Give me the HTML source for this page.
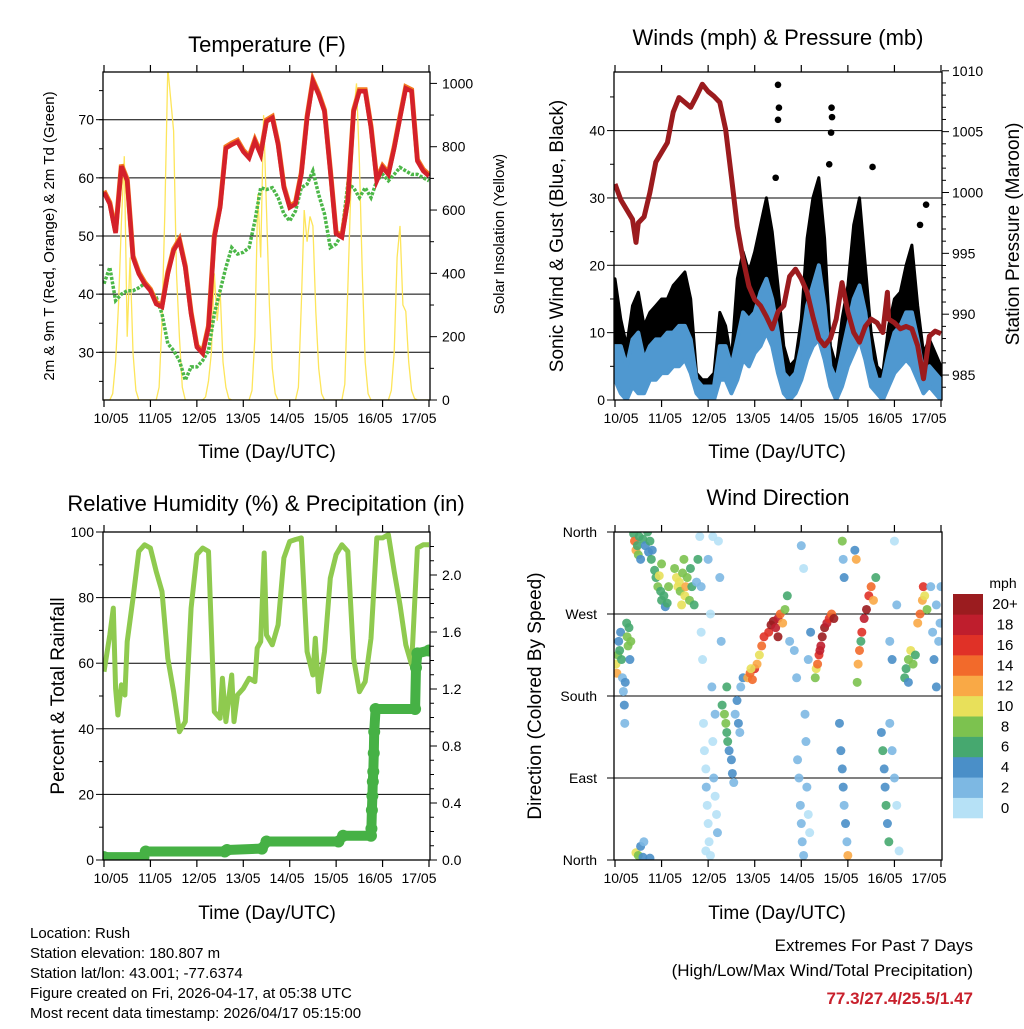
<!DOCTYPE html>
<html><head><meta charset="utf-8"><style>
body{margin:0;background:#fff;}
svg text{font-family:"Liberation Sans",sans-serif;fill:#000;}
</style></head><body>
<svg id="c" width="1024" height="1024" viewBox="0 0 1024 1024" xmlns="http://www.w3.org/2000/svg">
<text x="267" y="52" font-size="22" text-anchor="middle">Temperature (F)</text>
<text x="778" y="45" font-size="22" text-anchor="middle">Winds (mph) &amp; Pressure (mb)</text>
<text x="266" y="511" font-size="22" text-anchor="middle">Relative Humidity (%) &amp; Precipitation (in)</text>
<text x="778" y="505" font-size="22" text-anchor="middle">Wind Direction</text>
<text x="267" y="458" font-size="19" text-anchor="middle">Time (Day/UTC)</text>
<text x="777" y="458" font-size="19" text-anchor="middle">Time (Day/UTC)</text>
<text x="267" y="919" font-size="19" text-anchor="middle">Time (Day/UTC)</text>
<text x="777" y="919" font-size="19" text-anchor="middle">Time (Day/UTC)</text>
<text transform="translate(54,236) rotate(-90)" font-size="15" text-anchor="middle">2m &amp; 9m T (Red, Orange) &amp; 2m Td (Green)</text>
<text transform="translate(504,234) rotate(-90)" font-size="15" text-anchor="middle">Solar Insolation (Yellow)</text>
<text transform="translate(563,236) rotate(-90)" font-size="19" text-anchor="middle">Sonic Wind &amp; Gust (Blue, Black)</text>
<text transform="translate(1019,234) rotate(-90)" font-size="19" text-anchor="middle">Station Pressure (Maroon)</text>
<text transform="translate(64,696) rotate(-90)" font-size="19" text-anchor="middle">Percent &amp; Total Rainfall</text>
<text transform="translate(541,696) rotate(-90)" font-size="19" text-anchor="middle">Direction (Colored By Speed)</text>
<g font-size="15">
<text x="30" y="938">Location: Rush</text>
<text x="30" y="958">Station elevation: 180.807 m</text>
<text x="30" y="978">Station lat/lon: 43.001; -77.6374</text>
<text x="30" y="998">Figure created on Fri, 2026-04-17, at 05:38 UTC</text>
<text x="30" y="1018">Most recent data timestamp: 2026/04/17 05:15:00</text>
</g>
<text x="973" y="951" font-size="17" text-anchor="end">Extremes For Past 7 Days</text>
<text x="973" y="976" font-size="17" text-anchor="end">(High/Low/Max Wind/Total Precipitation)</text>
<text x="973" y="1004" font-size="17" font-weight="bold" text-anchor="end" style="fill:#c8202c">77.3/27.4/25.5/1.47</text>
</svg>
<script>
const NS="http://www.w3.org/2000/svg";
const svg=document.getElementById('c');
const dayLabels=["10/05","11/05","12/05","13/05","14/05","15/05","16/05","17/05"];
const tStep=0.125;
const tempRed=[57.5,55.5,50.5,62,59.5,46.3,43.5,41.8,40.6,38.3,37.8,43.5,47.5,49.2,44.6,36.6,30.9,29.8,34.3,49.7,54.9,65.1,65.7,66.2,64.5,63.4,66.3,64,69.7,70.3,65.7,58.3,54.9,55.5,60.6,70.3,76.6,74.3,71.4,61.2,50.4,49.8,56,71.4,74.9,74.9,68.6,59.5,61.8,60.6,65.1,70.3,75.4,74.9,62.9,61.2,60.3];
const dewGreen=[41.8,44.6,38.9,40,40.6,40.6,41.1,41.8,40.6,39.5,36.6,31.5,30.3,28.6,25.2,27.5,27.5,28.6,30.3,36.6,40.6,44.6,48,46.9,47.2,48,52.6,58.3,58,58.3,56.6,53.8,52.6,54.3,58.3,58.9,61.2,57.1,53.8,48,48.6,50.4,58.9,58.3,56.6,58.3,56.6,59.5,60.6,59.5,60.6,61.8,61.2,60.6,60.6,60,59.5];
const solarStep=1/16;
const solarVals=[0,0,0,20,120,300,560,770,200,450,150,30,0,0,0,0,
0,0,0,40,250,600,1050,950,850,400,200,40,0,0,0,0,
0,0,0,10,60,150,400,250,350,120,40,5,0,0,0,0,
0,0,0,30,200,650,450,900,600,300,100,20,0,0,0,0,
0,0,0,40,300,600,500,580,550,280,100,20,0,0,0,0,
0,0,0,50,350,650,900,1000,750,400,120,20,0,0,0,0,
0,0,0,30,150,450,550,300,280,120,30,5,0,0,0,0,0];
const windLow=[3,1,0,2,1,1,3,3,4,4,5,5,6,4,1,0,0,0,3,3,1,3,6,5,7,8,10,8,4,1,0,1,3,6,8,9,6,2,0,2,5,7,9,6,2,1,0,2,4,5,6,5,3,1,2,1,0];
const windHigh=[8,8,5,9,10,6,8,9,9,10,10,11,11,9,3,2,2,2,8,8,5,9,13,12,13,16,18,15,10,4,3,4,8,14,17,20,14,5,3,7,11,15,17,13,6,3,3,7,10,11,13,13,9,4,5,4,3];
const gustHigh=[18,12,8,14,16,11,13,14,15,15,17,18,19,15,4,3,3,4,13,11,6,18,22,19,22,26,30,25,17,8,5,6,12,24,30,33,24,8,5,12,17,26,30,20,10,5,4,11,15,16,20,23,14,7,9,7,5];
const gustPeakT=[3.5,3.52,3.5,4.65,4.66,4.64,5.53,6.68,6.55,3.45,4.6];
const gustPeakV=[46.8,43.4,41.6,43.4,42,39.7,34.6,29,26,33,35];
const presT=[0,0.125,0.25,0.375,0.45,0.5,0.625,0.75,0.875,1,1.125,1.25,1.375,1.5,1.625,1.75,1.875,2,2.125,2.25,2.375,2.5,2.625,2.75,2.875,3,3.125,3.25,3.375,3.5,3.625,3.75,3.875,4,4.125,4.25,4.375,4.5,4.625,4.75,4.875,5,5.125,5.25,5.375,5.5,5.625,5.75,5.85,5.875,6,6.125,6.25,6.375,6.5,6.625,6.75,6.875,7];
const presV=[1000.7,999.4,998.6,997.8,995.9,997.5,998,1000,1002.5,1003.3,1004.1,1006.6,1007.8,1007.4,1007,1007.9,1008.9,1008.3,1007.9,1007.4,1005.2,1001.3,997.2,994.5,992.3,991.2,990.7,989.8,988.8,990.2,990.7,993.1,993.7,992.9,991.8,989.8,988,987.4,988,989.6,992.6,990.2,988.5,987.7,989,989.6,989.3,988.5,991.8,989.6,989.3,988.8,989,988.8,987.4,984.7,988.2,988.6,988.4];
const rhT=[0,0.125,0.2,0.25,0.3,0.375,0.45,0.5,0.625,0.75,0.875,1,1.125,1.25,1.375,1.5,1.625,1.75,1.875,2,2.125,2.25,2.375,2.5,2.55,2.625,2.75,2.8,2.875,3,3.125,3.25,3.3,3.375,3.45,3.5,3.625,3.75,3.875,4,4.125,4.25,4.375,4.5,4.55,4.625,4.75,4.875,5,5.125,5.25,5.375,5.5,5.625,5.75,5.875,6,6.125,6.25,6.375,6.5,6.625,6.75,6.875,7];
const rhV=[57.4,68.6,76.8,52.3,44.2,53.4,50.3,66.6,79.8,94.1,96.1,95.1,88,81.9,61.5,51.3,39.1,42.2,76.8,93.1,95.1,94.1,45.2,43.2,55.4,42.2,56.4,42.2,50.3,52.3,55.4,54.4,64.6,66.6,93.6,68.6,65.6,71.7,92.1,97.1,97.7,98.2,63.5,56.4,67.6,51.3,63.5,85.9,93.1,96.1,94.1,61.5,51.3,54.4,67.6,98.2,98.2,99.2,88,77.8,65.6,59.5,95.1,96.1,96.1];
const rainT=[0,0.85,0.9,2.6,2.65,3.4,3.5,5.05,5.15,5.75,5.76,5.77,5.78,5.79,5.8,5.81,5.82,5.85,6.7,6.72,6.75,7.0];
const rainV=[0.02,0.02,0.06,0.06,0.07,0.08,0.13,0.13,0.17,0.17,0.22,0.35,0.45,0.55,0.62,0.75,0.9,1.06,1.06,1.35,1.45,1.47];
const dirT=[0.02,0.04,0.06,0.08,0.1,0.12,0.14,0.16,0.18,0.2,0.21,0.22,0.26,0.28,0.3,0.32,0.25,0.34,
0.4,0.42,0.45,0.48,0.5,0.52,0.55,0.6,0.65,0.7,0.72,0.75,0.78,0.8,0.45,0.5,0.55,0.6,0.62,0.75,
0.85,0.88,0.92,0.95,0.98,1.0,1.05,1.08,1.12,1.15,1.0,
1.28,1.32,1.35,1.38,1.4,1.45,1.5,1.52,1.55,1.6,1.62,1.65,1.7,1.48,1.43,1.75,1.78,
1.82,1.85,1.85,1.88,1.9,1.92,1.95,1.96,1.98,2.0,2.02,2.05,2.0,2.05,2.08,2.1,2.12,2.15,2.18,2.2,2.22,2.25,2.28,2.1,1.95,2.15,
2.3,2.35,2.38,2.4,2.42,2.45,2.5,2.52,2.55,2.58,2.62,2.65,2.68,2.7,2.75,2.4,
2.85,2.9,2.95,3.0,3.05,3.1,3.15,3.2,2.92,
3.3,3.35,3.4,3.45,3.5,3.55,3.6,3.65,3.7,3.75,3.5,
3.85,3.9,3.92,3.95,3.98,4.0,4.02,4.05,4.08,4.1,4.12,4.15,4.18,4.0,4.05,4.15,4.2,
4.3,4.32,4.35,4.38,4.42,4.45,4.5,4.55,4.6,4.65,4.7,4.4,
4.82,4.85,4.88,4.9,4.92,4.95,4.98,5.0,4.88,4.9,4.92,
5.2,5.22,5.25,5.3,5.35,5.4,5.45,5.5,5.55,5.6,5.28,5.15,5.18,
5.72,5.75,5.78,5.8,5.82,5.85,5.88,5.9,5.95,6.0,6.05,6.1,5.9,5.95,6.0,6.05,
6.22,6.25,6.3,6.35,6.4,6.45,6.3,
6.5,6.55,6.6,6.62,6.65,6.7,
6.78,6.82,6.85,6.9,6.95,6.98,7.0,6.9];
const dirD=[215,205,225,240,230,250,220,200,185,170,150,195,245,235,255,220,260,240,
358,350,340,345,335,355,330,352,345,360,338,350,330,340,8,5,15,3,20,2,
318,310,300,312,295,285,290,278,282,300,325,
320,310,300,305,295,315,290,300,310,285,320,300,280,330,280,305,330,
355,300,250,220,150,120,100,80,60,40,20,5,330,270,190,130,90,70,50,30,350,310,240,355,10,160,
170,160,150,140,130,120,110,95,85,160,175,150,140,190,200,190,
200,205,198,210,215,225,235,245,210,
250,258,262,255,265,270,260,275,290,240,245,
230,200,110,90,60,40,20,5,160,130,80,50,30,345,320,220,250,
200,210,215,225,235,245,255,260,265,270,265,230,
150,120,100,80,60,40,20,5,350,330,310,
195,215,230,250,265,275,290,300,285,310,240,340,330,
140,120,100,80,60,40,20,150,120,90,60,10,240,220,350,280,
200,210,220,230,215,225,195,
260,270,285,300,290,275,
300,250,220,190,240,260,300,280];
const dirS=[10,12,8,5,6,4,7,3,3,4,3,4,8,9,7,4,6,8,
7,14,12,6,8,6,5,6,5,6,4,7,6,5,10,9,4,4,3,4,
6,6,8,10,6,7,6,4,7,9,8,
9,10,10,11,9,8,10,12,9,8,7,7,6,8,10,3,7,
1,2,1,0,1,0,1,2,1,0,1,0,2,1,2,1,2,0,1,2,1,2,3,0,1,3,
6,8,9,7,6,5,4,4,3,3,4,4,3,3,4,7,
13,15,14,16,12,11,14,17,10,
17,20,20,19,18,15,13,8,6,3,20,
2,3,2,2,2,3,2,3,3,2,2,1,1,3,1,3,4,
9,10,14,17,18,20,20,19,17,14,20,18,
4,5,4,4,3,4,2,12,8,3,4,
9,12,14,16,19,20,16,14,12,6,6,4,12,
5,6,4,5,6,4,6,2,3,2,1,1,3,4,1,2,
6,7,9,10,8,6,4,
12,14,12,16,10,8,
3,2,4,4,2,2,3,2];
const speedColors=["#b6e1f6","#7db8e3","#4a8fc8","#46a86f","#7cc24f","#e8e05a","#f9a946","#f26a2b","#e03127","#bf1e2d","#9b1c1f"];
const speedLabels=["0","2","4","6","8","10","12","14","16","18","20+"];

function el(tag,attrs,parent){const e=document.createElementNS(NS,tag);for(const k in attrs)e.setAttribute(k,attrs[k]);(parent||svg).appendChild(e);return e;}
function txt(x,y,s,size,anchor,parent){const t=el('text',{x:x,y:y,'font-size':size,'text-anchor':anchor||'middle'},parent);t.textContent=s;return t;}
function scale(d0,d1,r0,r1){return v=>r0+(v-d0)/(d1-d0)*(r1-r0);}
const TF=14;

function panel(name,L,R,T,B,labelX0){
  const g=el('g',{});
  
  
  const x=scale(0,7,L+1,R-1);
  for(let i=0;i<=7;i++){
    const xx=x(i);
    el('line',{x1:xx,y1:B,x2:xx,y2:B+7,stroke:'#000','stroke-width':1.2},g);
    el('line',{x1:xx,y1:T,x2:xx,y2:T-7,stroke:'#000','stroke-width':1.2},g);
    const t=txt(labelX0+i*44,B+23,dayLabels[i],TF,'middle',g);
    
    
  }
  return {g,x,L,R,T,B};
}
function frame(p){const r=el('rect',{x:p.L,y:p.T,width:p.R-p.L,height:p.B-p.T,fill:'none',stroke:'#000','stroke-width':1.3},p.g);

}
function pts(xs,ys){return xs.map((v,i)=>v.toFixed(1)+','+ys[i].toFixed(1)).join(' ');}
function clip(id,p){const c=el('clipPath',{id:id});el('rect',{x:p.L,y:p.T,width:p.R-p.L,height:p.B-p.T},c);}

(function(){
  const p=panel('temperature-panel',103,430,72,400,111);
  clip('cpT',p);
  const y=scale(21.8,78.2,400,72);
  const ys=scale(0,1036,400,72);
  [30,40,50,60,70].forEach(v=>{
    el('line',{x1:p.L,y1:y(v),x2:p.R,y2:y(v),stroke:'#000','stroke-width':1},p.g);
    el('line',{x1:p.L-7,y1:y(v),x2:p.L,y2:y(v),stroke:'#000'},p.g);
    txt(p.L-9,y(v)+5,String(v),TF,'end',p.g);
  });
  for(let v=25;v<80;v+=5){el('line',{x1:p.L-4,y1:y(v),x2:p.L,y2:y(v),stroke:'#000'},p.g);}
  [0,200,400,600,800,1000].forEach(v=>{
    el('line',{x1:p.R,y1:ys(v),x2:p.R+7,y2:ys(v),stroke:'#000'},p.g);
    txt(p.R+12,ys(v)+5,String(v),TF,'start',p.g);
  });
  for(let v=100;v<1050;v+=200){el('line',{x1:p.R,y1:ys(v),x2:p.R+4,y2:ys(v),stroke:'#000'},p.g);}
  const data=el('g',{'clip-path':'url(#cpT)'},p.g);
  const sx=solarVals.map((v,i)=>p.x(i*solarStep));
  const sl=el('polyline',{points:pts(sx,solarVals.map(ys)),fill:'none',stroke:'#fde55a','stroke-width':1.3},data);
  
  
  const tx=tempRed.map((v,i)=>p.x(i*tStep));
  const gl=el('polyline',{points:pts(tx,dewGreen.map(y)),fill:'none',stroke:'#4cb748','stroke-width':3.5,'stroke-dasharray':'3 1.5'},data);
  
  
  const ol=el('polyline',{points:pts(tx,tempRed.map(y)),fill:'none',stroke:'#f47b20','stroke-width':5,transform:'translate(0,-1.5)'},data);
  
  
  const rl=el('polyline',{points:pts(tx,tempRed.map(y)),fill:'none',stroke:'#d4212a','stroke-width':4.5},data);
  
  
  frame(p);
})();

(function(){
  const p=panel('winds-panel',614,942,72,400,621);
  clip('cpW',p);
  const y=scale(0,48.7,400,72);
  const yp=scale(982.95,1009.9,400,72);
  [10,20,30,40].forEach(v=>{el('line',{x1:p.L,y1:y(v),x2:p.R,y2:y(v),stroke:'#000','stroke-width':1},p.g);});
  [0,10,20,30,40].forEach(v=>{el('line',{x1:p.L-7,y1:y(v),x2:p.L,y2:y(v),stroke:'#000'},p.g);txt(p.L-9,y(v)+5,String(v),TF,'end',p.g);});
  for(let v=5;v<48;v+=10){el('line',{x1:p.L-4,y1:y(v),x2:p.L,y2:y(v),stroke:'#000'},p.g);}
  [985,990,995,1000,1005,1010].forEach(v=>{el('line',{x1:p.R,y1:yp(v),x2:p.R+7,y2:yp(v),stroke:'#000'},p.g);txt(p.R+10,yp(v)+5,String(v),TF,'start',p.g);});
  for(let v=984;v<1010;v++){if(v%5)el('line',{x1:p.R,y1:yp(v),x2:p.R+4,y2:yp(v),stroke:'#000'},p.g);}
  const data=el('g',{'clip-path':'url(#cpW)'},p.g);
  const tx=windLow.map((v,i)=>p.x(i*tStep));
  const rev=a=>a.slice().reverse();
  const gp=el('polygon',{points:pts(tx.concat(rev(tx)),gustHigh.map(y).concat(rev(windLow).map(v=>y(v)))),fill:'#000',stroke:'#000','stroke-width':3,'stroke-linejoin':'round'},data);
  
  
  gustPeakT.forEach((t,i)=>{const c=el('circle',{cx:p.x(t),cy:y(gustPeakV[i]),r:3.3,fill:'#000'},data);
    
    });
  const bp=el('polygon',{points:pts(tx.concat(rev(tx)),windHigh.map(y).concat(rev(windLow).map(v=>y(v)))),fill:'#4f98d0',stroke:'#4f98d0','stroke-width':4,'stroke-linejoin':'round'},data);
  
  
  const pl=el('polyline',{points:pts(presT.map(p.x),presV.map(yp)),fill:'none',stroke:'#9b1b1e','stroke-width':5,'stroke-linejoin':'round'},data);
  
  
  frame(p);
})();

(function(){
  const p=panel('humidity-panel',103,430,532,860,111);
  clip('cpR',p);
  const y=scale(0,100,860,532);
  const yr=scale(0,2.0,860,575);
  [20,40,60,80].forEach(v=>{el('line',{x1:p.L,y1:y(v),x2:p.R,y2:y(v),stroke:'#000','stroke-width':1},p.g);});
  [0,20,40,60,80,100].forEach(v=>{el('line',{x1:p.L-7,y1:y(v),x2:p.L,y2:y(v),stroke:'#000'},p.g);txt(p.L-9,y(v)+5,String(v),TF,'end',p.g);});
  for(let v=10;v<100;v+=20){el('line',{x1:p.L-4,y1:y(v),x2:p.L,y2:y(v),stroke:'#000'},p.g);}
  ['0.0','0.4','0.8','1.2','1.6','2.0'].forEach(s=>{const v=parseFloat(s);el('line',{x1:p.R,y1:yr(v),x2:p.R+7,y2:yr(v),stroke:'#000'},p.g);txt(p.R+12,yr(v)+5,s,TF,'start',p.g);});
  for(let v=0.1;v<2.3;v+=0.1){el('line',{x1:p.R,y1:yr(v),x2:p.R+4,y2:yr(v),stroke:'#000'},p.g);}
  const data=el('g',{'clip-path':'url(#cpR)'},p.g);
  const rl=el('polyline',{points:pts(rhT.map(p.x),rhV.map(y)),fill:'none',stroke:'#8fca4f','stroke-width':5,'stroke-linejoin':'round'},data);
  
  
  const pr=el('polyline',{points:pts(rainT.map(p.x),rainV.map(yr)),fill:'none',stroke:'#46b145','stroke-width':10,'stroke-linecap':'round','stroke-linejoin':'round'},data);
  
  
  rainT.forEach((t,i)=>{const c=el('circle',{cx:p.x(t),cy:yr(rainV[i]),r:6,fill:'#46b145'},data);
    
    });
  frame(p);
})();

(function(){
  const p=panel('direction-panel',614,942,532,860,621);
  clip('cpD',p);
  const y=scale(0,360,860,532);
  const names=['North','East','South','West','North'];
  [0,90,180,270,360].forEach((v,i)=>{
    el('line',{x1:p.L,y1:y(v),x2:p.R,y2:y(v),stroke:'#000','stroke-width':1},p.g);
    el('line',{x1:p.L-7,y1:y(v),x2:p.L,y2:y(v),stroke:'#000'},p.g);
    txt(p.L-17,y(v)+5,names[i],TF,'end',p.g);
  });
  const data=el('g',{'clip-path':'url(#cpD)'},p.g);
  dirT.forEach((t,i)=>{
    const ci=Math.min(10,Math.floor(dirS[i]/2));
    const c=el('circle',{cx:p.x(t),cy:y(dirD[i]),r:4.5,fill:speedColors[ci],'fill-opacity':0.9},data);
    
    
  });
  frame(p);
  const cb=el('g',{});
  
  
  const bx=953,bw=30,top=594,h=224/11;
  txt(1003,588,'mph',14,'middle',cb);
  speedColors.forEach((c,i)=>{
    const yy=top+(10-i)*h;
    el('rect',{x:bx,y:yy,width:bw,height:h+0.3,fill:c},cb);
    txt(1005,yy+h/2+5,speedLabels[i],15,'middle',cb);
  });
})();
</script>
</body></html>
